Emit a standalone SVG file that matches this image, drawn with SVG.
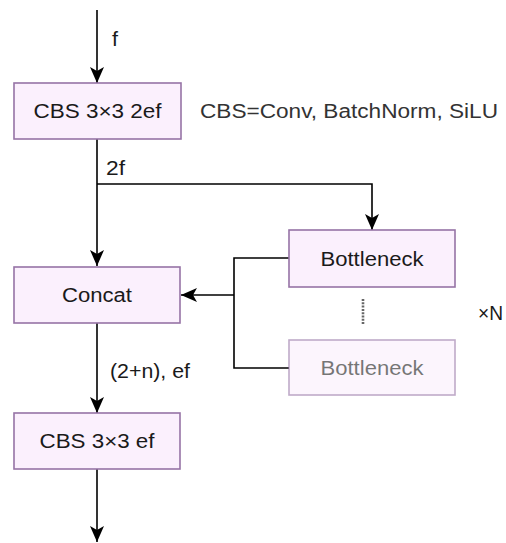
<svg xmlns="http://www.w3.org/2000/svg" width="506" height="543" viewBox="0 0 506 543">
<style>
.box{fill:#fbf0fd;stroke:#9673a6;stroke-width:1.6}
.t{font-family:"Liberation Sans",Arial,sans-serif;font-size:19.5px;fill:#1a1a1a;text-anchor:middle;dominant-baseline:central}
.lbl{font-family:"Liberation Sans",Arial,sans-serif;font-size:19.5px;fill:#1a1a1a;dominant-baseline:central}
.c{fill:none;stroke:#000;stroke-width:1.6}
</style>
<defs>
<marker id="ah" viewBox="0 0 16 14" refX="16" refY="7" markerWidth="16" markerHeight="14" markerUnits="userSpaceOnUse" orient="auto">
<path d="M0,0 L16,7 L0,14 L4,7 Z" fill="#000"/>
</marker>
</defs>
<g id="connectors">
<path class="c" d="M97,10 V83" marker-end="url(#ah)"/>
<path class="c" d="M97,139 V266" marker-end="url(#ah)"/>
<path class="c" d="M97,184 H372 V230" marker-end="url(#ah)"/>
<path class="c" d="M289,258 H234 V368 H289"/>
<path class="c" d="M234,295 H181" marker-end="url(#ah)"/>
<path class="c" d="M97,323 V413" marker-end="url(#ah)"/>
<path class="c" d="M97,469 V542" marker-end="url(#ah)"/>
<path d="M363,299 V325" fill="none" stroke="#666" stroke-width="2.6" stroke-dasharray="2 1.3"/>
</g>
<g id="label-f"><text class="lbl" x="112" y="39" textLength="6" lengthAdjust="spacingAndGlyphs">f</text></g>
<g id="label-2f"><text class="lbl" x="106" y="168" textLength="19" lengthAdjust="spacingAndGlyphs">2f</text></g>
<g id="label-2n"><text class="lbl" x="110" y="371" textLength="80" lengthAdjust="spacingAndGlyphs">(2+n), ef</text></g>
<g id="label-cbs"><text class="lbl" x="200" y="111" style="fill:#333" textLength="298" lengthAdjust="spacingAndGlyphs">CBS=Conv, BatchNorm, SiLU</text></g>
<g id="label-n"><text class="lbl" x="478" y="313" textLength="25" lengthAdjust="spacingAndGlyphs">×N</text></g>
<g id="cbs1">
<rect class="box" x="14" y="83" width="167" height="56"/>
<text class="t" x="97.5" y="111" textLength="128" lengthAdjust="spacingAndGlyphs">CBS 3×3 2ef</text>
</g>
<g id="concat">
<rect class="box" x="14" y="267" width="166" height="56"/>
<text class="t" x="97" y="295" textLength="70" lengthAdjust="spacingAndGlyphs">Concat</text>
</g>
<g id="bottleneck1">
<rect class="box" x="289" y="230" width="166" height="57"/>
<text class="t" x="372" y="258.5" textLength="103" lengthAdjust="spacingAndGlyphs">Bottleneck</text>
</g>
<g id="bottleneck2" opacity="0.6">
<rect class="box" x="289" y="340" width="166" height="55"/>
<text class="t" x="372" y="368" textLength="103" lengthAdjust="spacingAndGlyphs">Bottleneck</text>
</g>
<g id="cbs2">
<rect class="box" x="14" y="413" width="166" height="56"/>
<text class="t" x="97" y="441" textLength="115" lengthAdjust="spacingAndGlyphs">CBS 3×3 ef</text>
</g>
</svg>
